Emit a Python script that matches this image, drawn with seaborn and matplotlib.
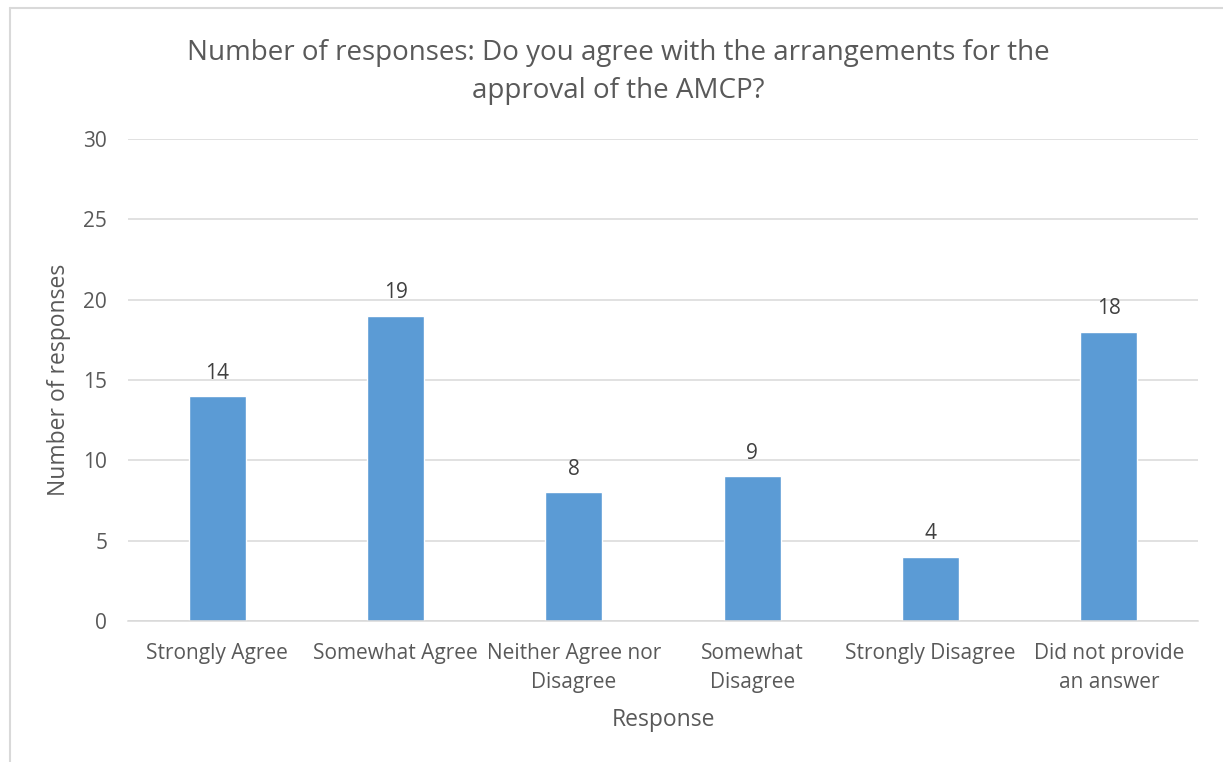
import matplotlib
matplotlib.use("Agg")
import matplotlib.pyplot as plt
import seaborn as sns
import pandas as pd
from matplotlib.lines import Line2D

categories = ["Strongly Agree", "Somewhat Agree", "Neither Agree nor\nDisagree",
              "Somewhat\nDisagree", "Strongly Disagree", "Did not provide\nan answer"]
counts = [14, 19, 8, 9, 4, 18]
y_ticks = [0, 5, 10, 15, 20, 25, 30]

title = "Number of responses: Do you agree with the arrangements for the\napproval of the AMCP?"
x_label = "Response"
y_label = "Number of responses"

sns.set_theme(style="white")
plt.rcParams["font.family"] = ["Open Sans", "DejaVu Sans"]

TEXT = "#595959"
GRID = "#d9d9d9"
BAR = "#5b9bd5"

df = pd.DataFrame({"category": categories, "count": counts})

fig = plt.figure(figsize=(12.23, 7.62), dpi=100)
ax = fig.add_axes([128 / 1223, 1 - 621 / 762, (1198 - 128) / 1223, (621 - 139) / 762])

sns.barplot(data=df, x="category", y="count", color=BAR, saturation=1,
            width=0.32, ax=ax, zorder=3)

ax.set_ylim(0, 30)
ax.set_yticks(y_ticks)
ax.set_xlim(-0.5, len(categories) - 0.5)
ax.yaxis.grid(True, color=GRID, linewidth=1.1, zorder=0)
ax.xaxis.grid(False)
for s in ["top", "right", "left"]:
    ax.spines[s].set_visible(False)
ax.spines["bottom"].set_color(GRID)
ax.spines["bottom"].set_linewidth(1.1)
ax.spines["bottom"].set_zorder(4)

ax.tick_params(axis="both", length=0, colors=TEXT, labelsize=15)
ax.tick_params(axis="y", pad=15)
ax.tick_params(axis="x", pad=16)
for lbl in ax.get_xticklabels():
    lbl.set_linespacing(1.5)

for c in ax.containers:
    ax.bar_label(c, labels=[str(v) for v in counts], padding=9, color="#404040", fontsize=15)

ax.set_xlabel(x_label, color=TEXT, fontsize=16.5, labelpad=11)
ax.set_ylabel(y_label, color=TEXT, fontsize=16.5, labelpad=9)

fig.text(618 / 1223, 1 - 72 / 762, title, ha="center", va="center",
         color=TEXT, fontsize=20, linespacing=1.47)

# chart area frame
fig.add_artist(Line2D([10 / 1223, 1], [1 - 8 / 762, 1 - 8 / 762],
                      transform=fig.transFigure, color=GRID, linewidth=1.5))
fig.add_artist(Line2D([10 / 1223, 10 / 1223], [0, 1 - 8 / 762],
                      transform=fig.transFigure, color=GRID, linewidth=1.5))

fig.savefig("out.png", dpi=100, facecolor="white")
